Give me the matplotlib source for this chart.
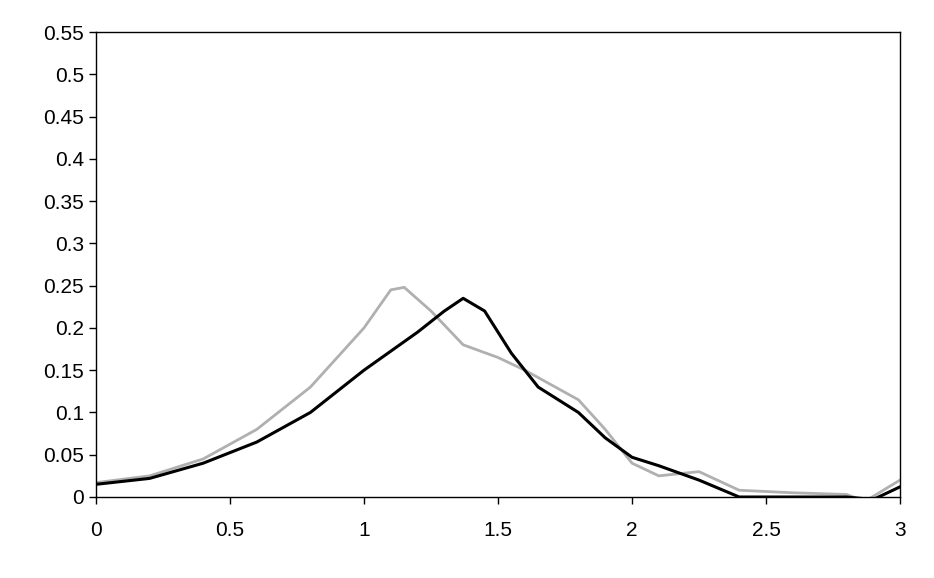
import matplotlib.pyplot as plt

plt.rcParams['font.family'] = ['Liberation Sans', 'DejaVu Sans']

x_black = [0, 0.2, 0.4, 0.6, 0.8, 1.0, 1.2, 1.3, 1.37, 1.45, 1.55, 1.65, 1.8, 1.9, 2.0, 2.1, 2.25, 2.4, 2.6, 2.8, 2.9, 3.0]
y_black = [0.015, 0.022, 0.04, 0.065, 0.1, 0.15, 0.195, 0.22, 0.235, 0.22, 0.17, 0.13, 0.1, 0.07, 0.047, 0.037, 0.02, 0.0, 0.0, 0.0, -0.003, 0.012]

x_grey = [0, 0.2, 0.4, 0.6, 0.8, 1.0, 1.1, 1.15, 1.25, 1.37, 1.5, 1.6, 1.8, 1.9, 2.0, 2.1, 2.25, 2.4, 2.6, 2.8, 2.87, 3.0]
y_grey = [0.017, 0.025, 0.045, 0.08, 0.13, 0.2, 0.245, 0.248, 0.22, 0.18, 0.165, 0.15, 0.115, 0.08, 0.04, 0.025, 0.03, 0.008, 0.005, 0.003, -0.005, 0.02]

x_ticks = [0, 0.5, 1, 1.5, 2, 2.5, 3]
x_labels = ['0', '0.5', '1', '1.5', '2', '2.5', '3']
y_ticks = [i * 0.05 for i in range(12)]
y_labels = ['0', '0.05', '0.1', '0.15', '0.2', '0.25', '0.3', '0.35', '0.4', '0.45', '0.5', '0.55']

fig = plt.figure(figsize=(9.34, 5.78), dpi=100)
ax = fig.add_axes([96 / 934, 81 / 578, 804 / 934, 465 / 578])

ax.plot(x_grey, y_grey, color='#b0b0b0', linewidth=2)
ax.plot(x_black, y_black, color='black', linewidth=2.2)

ax.set_xlim(0, 3)
ax.set_ylim(0, 0.55)
ax.set_xticks(x_ticks)
ax.set_xticklabels(x_labels)
ax.set_yticks(y_ticks)
ax.set_yticklabels(y_labels)
ax.tick_params(labelsize=15, direction='out', length=5, width=1)
ax.tick_params(axis='x', pad=12)
for s in ax.spines.values():
    s.set_linewidth(1)

plt.savefig('out.png', dpi=100)
